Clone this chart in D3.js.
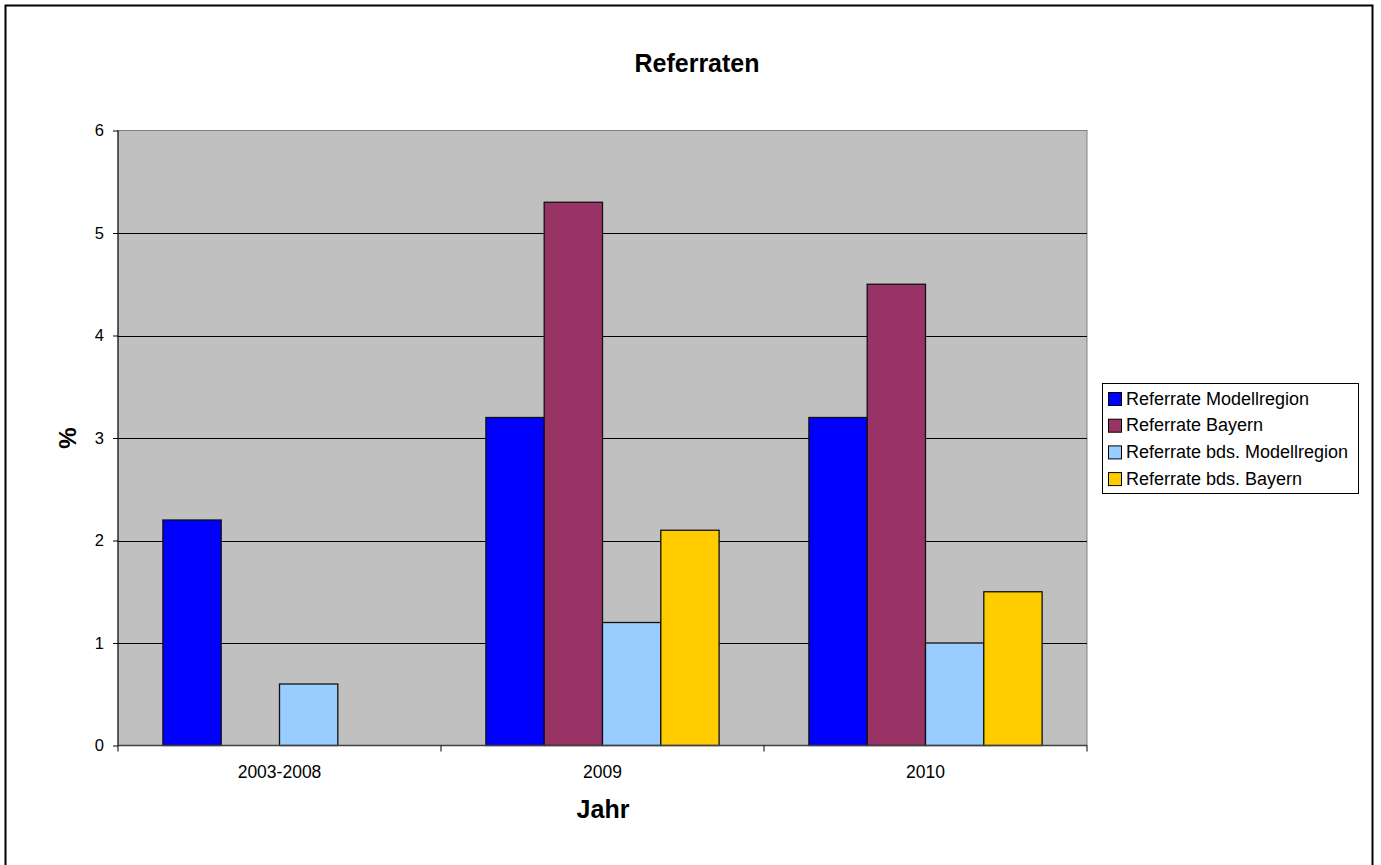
<!DOCTYPE html>
<html>
<head>
  <meta charset="utf-8">
  <title>Referraten</title>
  <style>
    body { margin: 0; background: #fff; }
    svg { font-family: "Liberation Sans", Arial, sans-serif; }
  </style>
  <script src="https://cdn.jsdelivr.net/npm/d3@7"></script>
</head>
<body>
<svg id="chart" width="1381" height="865"></svg>
<script>

var categories = ["2003-2008", "2009", "2010"];
var seriesNames = ["Referrate Modellregion", "Referrate Bayern", "Referrate bds. Modellregion", "Referrate bds. Bayern"];
var seriesColors = ["#0000ff", "#993366", "#99ccff", "#ffcc00"];
// null = no bar in that year
var modellregion = [2.2, 3.2, 3.2];
var bayern = [null, 5.3, 4.5];
var bdsModellregion = [0.6, 1.2, 1.0];
var bdsBayern = [null, 2.1, 1.5];
var yTicks = [0, 1, 2, 3, 4, 5, 6];

var values = [modellregion, bayern, bdsModellregion, bdsBayern];

var svg = d3.select("#chart");
var plotLeft = 118, plotRight = 1087, plotTop = 130.5, plotBottom = 745.5;

// outer frame
svg.append("rect")
  .attr("x", 5.5).attr("y", 5.5)
  .attr("width", 1367).attr("height", 880)
  .attr("fill", "#fff").attr("stroke", "#000").attr("stroke-width", 2);

var x = d3.scaleBand().domain(categories).range([plotLeft, plotRight]);
var y = d3.scaleLinear().domain([0, 6]).range([plotBottom, plotTop]);
// bars inside one year: 4 slots, with gaps at both sides
var inner = d3.scaleBand().domain(d3.range(seriesNames.length))
  .range([0, x.bandwidth()]).paddingOuter(0.77);

// plot area
svg.append("rect")
  .attr("x", plotLeft).attr("y", plotTop)
  .attr("width", plotRight - plotLeft).attr("height", plotBottom - plotTop)
  .attr("fill", "#c0c0c0").attr("stroke", "#808080");

// gridlines
svg.append("g").selectAll("line").data(yTicks.slice(1, -1))
  .join("line")
  .attr("x1", plotLeft).attr("x2", plotRight)
  .attr("y1", function(d) { return Math.round(y(d)) + 0.5; })
  .attr("y2", function(d) { return Math.round(y(d)) + 0.5; })
  .attr("stroke", "#000").attr("stroke-width", 1);

// bars
var rows = [];
categories.forEach(function(c, ci) {
  values.forEach(function(s, si) {
    if (s[ci] != null) rows.push({cat: c, s: si, v: s[ci]});
  });
});
svg.append("g").selectAll("rect").data(rows)
  .join("rect")
  .attr("x", function(d) { return x(d.cat) + inner(d.s); })
  .attr("y", function(d) { return y(d.v); })
  .attr("width", inner.bandwidth())
  .attr("height", function(d) { return y(0) - y(d.v); })
  .attr("fill", function(d) { return seriesColors[d.s]; })
  .attr("stroke", "#111").attr("stroke-width", 1.3);

// axes
var yAxis = d3.axisLeft(y).tickValues(yTicks).tickFormat(d3.format("d")).tickSize(5).tickPadding(9);
var gy = svg.append("g").attr("transform", "translate(" + plotLeft + ",0)").call(yAxis);
gy.select(".domain").attr("d", "M0," + plotTop + "V" + plotBottom).attr("stroke", "#000");
gy.selectAll(".tick text").attr("font-size", 16.5).attr("fill", "#000").attr("font-family", null);
gy.selectAll(".tick line").attr("stroke", "#000");

var xAxis = d3.axisBottom(x).tickSize(0).tickPadding(20);
var gx = svg.append("g").attr("transform", "translate(0," + plotBottom + ")").call(xAxis);
gx.select(".domain").attr("d", "M" + plotLeft + ",0H" + plotRight).attr("stroke", "#404040").attr("stroke-width", 1.5);
gx.selectAll(".tick text").attr("font-size", 17.5).attr("fill", "#000").attr("font-family", null);
// category separators
gx.append("g").selectAll("line").data(d3.range(categories.length + 1))
  .join("line")
  .attr("x1", function(i) { return plotLeft + i * x.bandwidth(); })
  .attr("x2", function(i) { return plotLeft + i * x.bandwidth(); })
  .attr("y1", 0).attr("y2", 6)
  .attr("stroke", "#000");

// titles
svg.append("text").attr("x", 697).attr("y", 72)
  .attr("text-anchor", "middle").attr("font-weight", "bold").attr("font-size", 25)
  .text("Referraten");
svg.append("text").attr("x", 603).attr("y", 818)
  .attr("text-anchor", "middle").attr("font-weight", "bold").attr("font-size", 25)
  .text("Jahr");
svg.append("text")
  .attr("transform", "translate(76,438) rotate(-90)")
  .attr("text-anchor", "middle").attr("font-weight", "bold").attr("font-size", 24)
  .text("%");

// legend
var lg = svg.append("g").attr("transform", "translate(1102.5,383.5)");
lg.append("rect").attr("width", 256).attr("height", 110)
  .attr("fill", "#fff").attr("stroke", "#000");
var item = lg.selectAll("g.item").data(seriesNames)
  .join("g").attr("class", "item")
  .attr("transform", function(d, i) { return "translate(6," + (15 + i * 26.7) + ")"; });
item.append("rect").attr("x", 0).attr("y", -6).attr("width", 13).attr("height", 13)
  .attr("fill", function(d, i) { return seriesColors[i]; })
  .attr("stroke", "#000");
item.append("text").attr("x", 17.5).attr("y", 6)
  .attr("font-size", 18).text(function(d) { return d; });

</script>
</body>
</html>
